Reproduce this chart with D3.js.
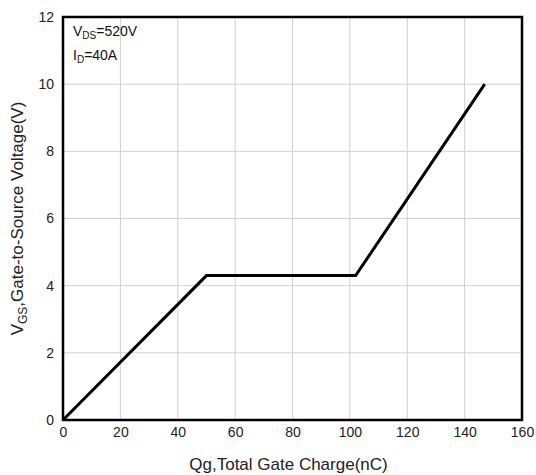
<html>
<script src="https://d3js.org/d3.v7.min.js"></script>
<style>
    body { margin: 0; background: #fff; font-family: 'Liberation Sans', Arial, sans-serif; }
    .grid line { stroke: #d0d0d0; stroke-width: 1; }
    .axis text { font-size: 14px; fill: #222; }
</style>
<body>
<svg id="chart" width="536" height="475"></svg>
<script>
    // gate charge curve
    const qg = [0, 50, 102, 147];
    const vgs = [0, 4.3, 4.3, 10];
    const xTicks = [0, 20, 40, 60, 80, 100, 120, 140, 160];
    const yTicks = [0, 2, 4, 6, 8, 10, 12];

    let svg = d3.select("svg#chart");
    let padding = {top: 17, bottom: 55, left: 63, right: 14};
    let chartWidth = 536 - padding.left - padding.right;
    let chartHeight = 475 - padding.top - padding.bottom;

    let xScale = d3.scaleLinear().domain([0, 160]).range([0, chartWidth]);
    let yScale = d3.scaleLinear().domain([0, 12]).range([chartHeight, 0]);

    let g = svg.append("g")
        .attr("transform", "translate(" + padding.left + "," + padding.top + ")");

    // grid
    g.append("g").attr("class", "grid")
        .selectAll("line.v").data(xTicks.slice(1, -1)).enter()
        .append("line")
        .attr("x1", d => xScale(d)).attr("x2", d => xScale(d))
        .attr("y1", 0).attr("y2", chartHeight);
    g.append("g").attr("class", "grid")
        .selectAll("line.h").data(yTicks.slice(1, -1)).enter()
        .append("line")
        .attr("y1", d => yScale(d)).attr("y2", d => yScale(d))
        .attr("x1", 0).attr("x2", chartWidth);

    // axes
    let xAxis = g.append("g").attr("class", "axis")
        .attr("transform", "translate(0," + chartHeight + ")")
        .call(d3.axisBottom(xScale).tickValues(xTicks).tickSize(0).tickPadding(7));
    let yAxis = g.append("g").attr("class", "axis")
        .call(d3.axisLeft(yScale).tickValues(yTicks).tickSize(0).tickPadding(9));
    xAxis.select(".domain").remove();
    yAxis.select(".domain").remove();

    // frame
    g.append("rect")
        .attr("x", 0).attr("y", 0)
        .attr("width", chartWidth).attr("height", chartHeight)
        .attr("fill", "none").attr("stroke", "#000").attr("stroke-width", 2.5);

    // curve
    let line = d3.line().x((d, i) => xScale(qg[i])).y(d => yScale(d));
    g.append("path")
        .datum(vgs)
        .attr("d", line)
        .attr("fill", "none")
        .attr("stroke", "#000")
        .attr("stroke-width", 3)
        .attr("stroke-linejoin", "miter");

    // annotation
    let ann = g.append("text").attr("x", 10).attr("y", 19).attr("font-size", 14).attr("fill", "#111");
    ann.append("tspan").text("V");
    ann.append("tspan").text("DS").attr("font-size", 10).attr("dy", 3);
    ann.append("tspan").text("=520V").attr("dy", -3);
    let ann2 = g.append("text").attr("x", 10).attr("y", 43).attr("font-size", 14).attr("fill", "#111");
    ann2.append("tspan").text("I");
    ann2.append("tspan").text("D").attr("font-size", 10).attr("dy", 3);
    ann2.append("tspan").text("=40A").attr("dy", -3);

    // axis titles
    svg.append("text")
        .attr("x", padding.left + chartWidth / 2 - 4)
        .attr("y", 470)
        .attr("text-anchor", "middle")
        .attr("font-size", 17)
        .attr("fill", "#222")
        .text("Qg,Total Gate Charge(nC)");

    let yt = svg.append("text")
        .attr("transform", "translate(23," + (padding.top + chartHeight / 2) + ") rotate(-90)")
        .attr("text-anchor", "middle")
        .attr("font-size", 17)
        .attr("fill", "#222");
    yt.append("tspan").text("V");
    yt.append("tspan").text("GS").attr("font-size", 12).attr("dy", 4);
    yt.append("tspan").text(",Gate-to-Source Voltage(V)").attr("dy", -4);
</script>
</body>
</html>
